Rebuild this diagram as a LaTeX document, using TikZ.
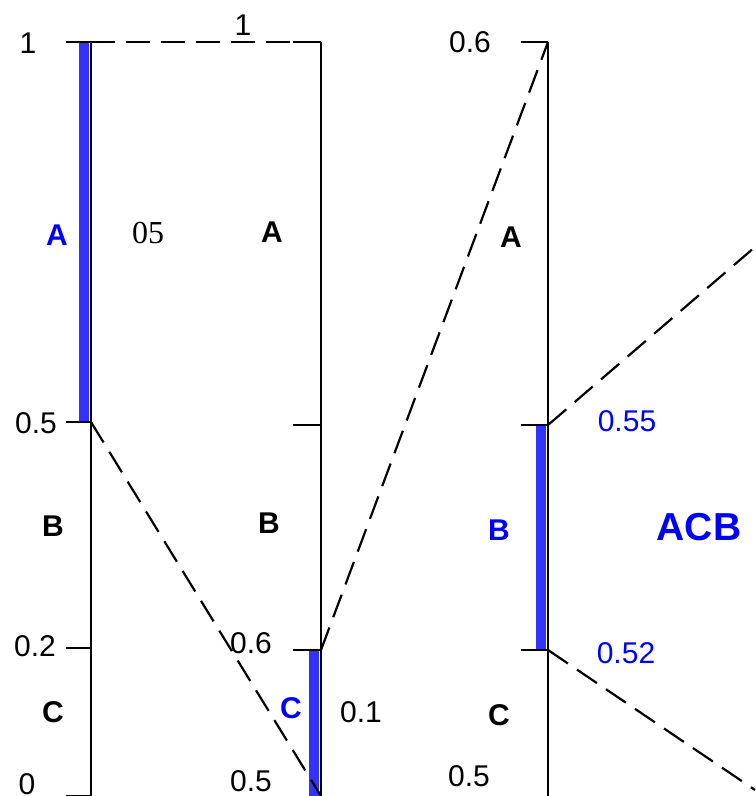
\documentclass[tikz,border=0pt]{standalone}
\usepackage{fontspec}
\setmainfont{Liberation Sans}
\newfontfamily\numserif{Liberation Serif}
\usepackage{tikz}
\usetikzlibrary{positioning}
\definecolor{BarBlue}{RGB}{51,51,255}
\definecolor{LblBlue}{RGB}{0,0,255}

\begin{document}
\begin{tikzpicture}[
    x=0.5pt, y=-0.5pt,
    axisline/.style={line width=1.1pt},
    tickline/.style={line width=1.1pt},
    hilite/.style={line width=5pt, draw=BarBlue},
    zoomlink/.style={line width=1.1pt, dash pattern=on 12pt off 5.5pt},
    numlbl/.style={inner sep=0pt, font=\fontsize{15}{17}\selectfont},
    seglbl/.style={inner sep=0pt, font=\bfseries\fontsize{15}{17}\selectfont}
  ]
  \useasboundingbox (0,0) rectangle (755,796);

  % the three scales
  \coordinate (s1top) at (91,42);
  \coordinate (s1ab) at (91,422);
  \coordinate (s1bc) at (91,648);
  \coordinate (s1bot) at (91,796);
  \coordinate (s2top) at (321,42);
  \coordinate (s2ab) at (321,425);
  \coordinate (s2bc) at (321,650);
  \coordinate (s2bot) at (321,796);
  \coordinate (s3top) at (548,42);
  \coordinate (s3ab) at (548,425);
  \coordinate (s3bc) at (548,650);
  \coordinate (s3bot) at (548,796);
  \coordinate (next1) at (755,247);
  \coordinate (next2) at (755,790);

  % chosen sub-intervals
  \draw[hilite] ([xshift=-3.5pt]s1top) -- ([xshift=-3.5pt]s1ab);
  \draw[hilite] ([xshift=-3.5pt]s2bc) -- ([xshift=-3.5pt]s2bot);
  \draw[hilite] ([xshift=-3.5pt]s3ab) -- ([xshift=-3.5pt]s3bc);

  \draw[axisline] (s1top) -- (s1bot);
  \draw[axisline] (s2top) -- (s2bot);
  \draw[axisline] (s3top) -- (s3bot);

  \foreach \t in {s1top,s1ab,s1bc,s1bot}
    \draw[tickline] (\t) -- ++(-25,0);
  \foreach \t in {s2top,s2ab,s2bc}
    \draw[tickline] (\t) -- ++(-28,0);
  \foreach \t in {s3top,s3ab,s3bc}
    \draw[tickline] (\t) -- ++(-27,0);

  % zoom lines
  \draw[zoomlink] (s1top) -- (s2top);
  \draw[zoomlink] (s1ab) -- (s2bot);
  \draw[zoomlink] (s2bc) -- (s3top);
  \draw[zoomlink] (s3ab) -- (next1);
  \draw[zoomlink] (s3bc) -- (next2);

  % scale 1
  \node[numlbl] (v1top) at (28,43) {1};
  \node[numlbl] (v1ab) at (36,423) {0.5};
  \node[numlbl] (v1bc) at (35,646) {0.2};
  \node[numlbl] (v1bot) at (27,784) {0};
  \node[seglbl, text=LblBlue] (segA1) at (57,235) {A};
  \node[seglbl] (segB1) at (53,526) {B};
  \node[seglbl] (segC1) at (53,712) {C};
  \node[inner sep=0pt, font=\numserif\fontsize{16}{18}\selectfont] (w1) at (148,233) {05};

  % scale 2
  \node[numlbl] (v2top) at (243,25) {1};
  \node[numlbl] (v2bc) at (251,643) {0.6};
  \node[numlbl] (v2bot) at (251,781) {0.5};
  \node[numlbl] (w2) at (361,712) {0.1};
  \node[seglbl] (segA2) at (272,232) {A};
  \node[seglbl] (segB2) at (269,523) {B};
  \node[seglbl, text=LblBlue] (segC2) at (291,708) {C};

  % scale 3
  \node[numlbl] (v3top) at (470,42) {0.6};
  \node[numlbl] (v3bot) at (469,776) {0.5};
  \node[numlbl, text=LblBlue] (v3ab) at (627,421) {0.55};
  \node[numlbl, text=LblBlue] (v3bc) at (626,653) {0.52};
  \node[seglbl] (segA3) at (511,237) {A};
  \node[seglbl, text=LblBlue] (segB3) at (499,530) {B};
  \node[seglbl] (segC3) at (499,715) {C};
  \node[inner sep=0pt, text=LblBlue, font=\bfseries\fontsize{19.5}{22}\selectfont] (code) at (699,527) {ACB};
\end{tikzpicture}
\end{document}
